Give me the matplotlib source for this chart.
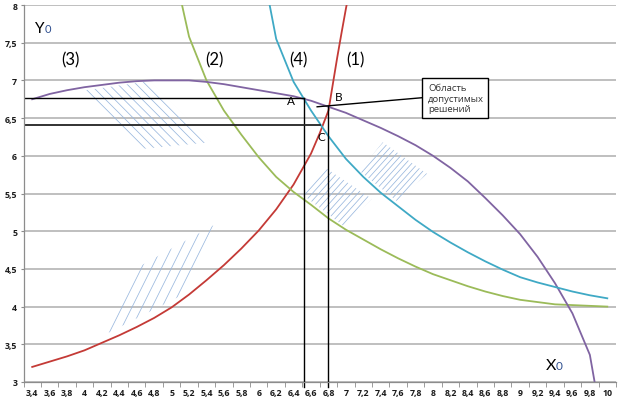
import numpy as np
import matplotlib
matplotlib.use("Agg")
import matplotlib.pyplot as plt
from matplotlib.patches import Polygon, Rectangle
from matplotlib.collections import LineCollection
from matplotlib.ticker import FixedLocator, FuncFormatter

# curve (1), red
x1 = [3.4, 3.6, 3.8, 4.0, 4.2, 4.4, 4.6, 4.8, 5.0, 5.2, 5.4, 5.6, 5.8, 6.0,
      6.2, 6.4, 6.6, 6.7, 6.8, 6.85, 6.9, 6.95, 7.0, 7.05]
y1 = [3.2, 3.27, 3.34, 3.42, 3.52, 3.62, 3.73, 3.85, 3.99, 4.16, 4.35, 4.55, 4.77, 5.01,
      5.29, 5.62, 6.03, 6.3, 6.6, 6.95, 7.3, 7.63, 7.95, 8.25]

# curve (2), green
x2 = [5.1, 5.2, 5.4, 5.6, 5.8, 6.0, 6.2, 6.4, 6.6, 6.8, 7.0, 7.2, 7.4, 7.6, 7.8,
      8.0, 8.2, 8.4, 8.6, 8.8, 9.0, 9.2, 9.4, 9.6, 9.8, 10.0]
y2 = [8.1, 7.58, 7.0, 6.6, 6.28, 5.98, 5.72, 5.52, 5.35, 5.17, 5.02, 4.89, 4.76, 4.64, 4.53,
      4.43, 4.35, 4.27, 4.2, 4.14, 4.09, 4.06, 4.03, 4.02, 4.01, 4.0]

# curve (3), purple
x3 = [3.4, 3.6, 3.8, 4.0, 4.2, 4.4, 4.6, 4.8, 5.0, 5.2, 5.4, 5.6, 5.8, 6.0, 6.2, 6.4,
      6.6, 6.8, 7.0, 7.2, 7.4, 7.6, 7.8, 8.0, 8.2, 8.4, 8.6, 8.8, 9.0, 9.2, 9.4, 9.6,
      9.8, 9.9]
y3 = [6.75, 6.82, 6.87, 6.91, 6.94, 6.97, 6.99, 7.0, 7.0, 7.0, 6.98, 6.95, 6.91, 6.87,
      6.83, 6.79, 6.73, 6.65, 6.57, 6.47, 6.37, 6.26, 6.14, 6.0, 5.84, 5.66, 5.44,
      5.21, 4.96, 4.66, 4.31, 3.91, 3.36, 2.7]

# curve (4), cyan
x4 = [6.1, 6.2, 6.4, 6.6, 6.8, 7.0, 7.2, 7.4, 7.6, 7.8, 8.0, 8.2, 8.4, 8.6, 8.8,
      9.0, 9.2, 9.4, 9.6, 9.8, 10.0]
y4 = [8.15, 7.55, 6.98, 6.6, 6.26, 5.96, 5.72, 5.51, 5.33, 5.15, 4.99, 4.85, 4.72,
      4.6, 4.49, 4.39, 4.32, 4.26, 4.2, 4.15, 4.11]

# points A, B, C
point_a = (6.52, 6.77)
point_b = (6.80, 6.66)
point_c = (6.70, 6.41)

# hatched regions (corners in data units)
hatch_left_top = [(3.955, 6.86), (4.75, 6.99), (5.45, 6.18), (4.65, 6.09)]
hatch_left_low = [(4.186, 3.6), (4.579, 4.5), (5.481, 5.08), (5.099, 4.14)]
hatch_mid = [(6.498, 5.49), (6.753, 5.85), (7.296, 5.43), (6.984, 5.06)]
hatch_right = [(7.157, 5.80), (7.423, 6.18), (7.932, 5.76), (7.585, 5.40)]

x_ticks = np.round(np.arange(3.4, 10.01, 0.2), 1)
y_ticks = np.arange(3, 8.01, 0.5)

plt.rcParams["font.family"] = ["Lato", "DejaVu Sans"]

fig = plt.figure(figsize=(6.2, 4.02), dpi=100)
ax = fig.add_axes([23.5 / 620, 1 - 383 / 402, 592.5 / 620, 377 / 402])
ax.set_xlim(3.3, 10.1)
ax.set_ylim(3, 8)

for side in ["top", "right"]:
    ax.spines[side].set_visible(False)
for side in ["left", "bottom"]:
    ax.spines[side].set_color("#8c8c8c")
    ax.spines[side].set_linewidth(0.9)

ax.set_yticks(y_ticks)
ax.yaxis.grid(True, color="#b4b4b4", linewidth=1.2)
ax.set_axisbelow(True)


def comma(v, pos=None):
    s = f"{v:.1f}".rstrip("0").rstrip(".")
    return s.replace(".", ",")


ax.yaxis.set_major_formatter(FuncFormatter(comma))
ax.set_xticks(x_ticks)
ax.xaxis.set_major_formatter(FuncFormatter(comma))
ax.xaxis.set_minor_locator(FixedLocator(np.arange(3.3, 10.15, 0.2)))
ax.tick_params(axis="x", which="major", length=0, pad=4, labelsize=6.3, labelcolor="#1a1a1a")
ax.tick_params(axis="x", which="minor", length=3.5, color="#8c8c8c")
ax.tick_params(axis="y", length=2.5, pad=2, color="#8c8c8c", labelsize=6.3, labelcolor="#1a1a1a")

fig.canvas.draw()
for lab in ax.get_xticklabels() + ax.get_yticklabels():
    lab.set_fontfamily(["Open Sans", "DejaVu Sans"])
    lab.set_fontweight("bold")


# hatching
def hatch(corners, angle, step, color="#9ab8de"):
    poly = Polygon(corners, closed=True, facecolor="none", edgecolor="none",
                   transform=ax.transData)
    ax.add_patch(poly)
    pts = ax.transData.transform(corners)
    cx, cy = pts.mean(axis=0)
    r = np.hypot(*(pts.max(axis=0) - pts.min(axis=0)))
    t = np.radians(angle)
    d = np.array([np.cos(t), np.sin(t)])
    n = np.array([-d[1], d[0]])
    gap = step * abs(np.sin(t))
    segs = []
    for k in np.arange(-r, r, gap):
        c = np.array([cx, cy]) + n * k
        segs.append([c - d * r, c + d * r])
    lc = LineCollection(segs, colors=color, linewidths=0.55, transform=None)
    ax.add_collection(lc)
    lc.set_clip_path(poly)


hatch(hatch_left_top, -45, 9.2)
hatch(hatch_left_low, 63.5, 10.0)
hatch(hatch_mid, 48, 6.5)
hatch(hatch_right, 48, 6.0)

# curves
lw = 1.3
ax.plot(x1, y1, color="#c43a36", lw=lw)
ax.plot(x2, y2, color="#9bbb59", lw=lw)
ax.plot(x3, y3, color="#8064a2", lw=lw)
ax.plot(x4, y4, color="#3fa9c5", lw=lw)

# construction lines
ax.plot([3.3, point_a[0]], [point_a[1], point_a[1]], color="black", lw=1.0)
ax.plot([point_a[0], point_a[0]], [2.93, point_a[1]], color="black", lw=1.0, clip_on=False)
ax.plot([3.3, point_c[0]], [point_c[1], point_c[1]], color="#222222", lw=1.3)
ax.plot([point_b[0], point_b[0]], [2.93, point_b[1]], color="black", lw=1.0, clip_on=False)

# callout box
box_x0, box_x1, box_y0, box_y1 = 7.871, 8.63, 6.50, 7.03
ax.plot([6.67, box_x0], [6.65, 6.77], color="black", lw=1.0)
ax.add_patch(Rectangle((box_x0, box_y0), box_x1 - box_x0, box_y1 - box_y0,
                       facecolor="white", edgecolor="black", lw=1.0, zorder=5))
ax.text(box_x0 + 0.07, (box_y0 + box_y1) / 2, "Область\nдопустимых\nрешений",
        fontsize=6.8, family=["Open Sans", "DejaVu Sans"],
        color="#333333", va="center", ha="left", linespacing=1.25, zorder=6)

# labels
ax.text(6.37, 6.73, "A", fontsize=8.5, ha="center", va="center")
ax.text(6.92, 6.79, "B", fontsize=8.5, ha="center", va="center")
ax.text(6.72, 6.25, "C", fontsize=8.5, ha="center", va="center")
for txt, xp in [("(3)", 3.84), ("(2)", 5.49), ("(4)", 6.455), ("(1)", 7.11)]:
    ax.text(xp, 7.28, txt, fontsize=12, ha="center", va="center")

ax.text(3.43, 7.64, "Y", fontsize=11, ha="left", va="baseline")
ax.text(3.54, 7.64, "0", fontsize=8, ha="left", va="baseline", color="#2f4f8f")
ax.text(9.29, 3.17, "X", fontsize=11.5, ha="left", va="baseline")
ax.text(9.41, 3.17, "0", fontsize=8.5, ha="left", va="baseline", color="#2f4f8f")

fig.savefig("out.png", dpi=100)
